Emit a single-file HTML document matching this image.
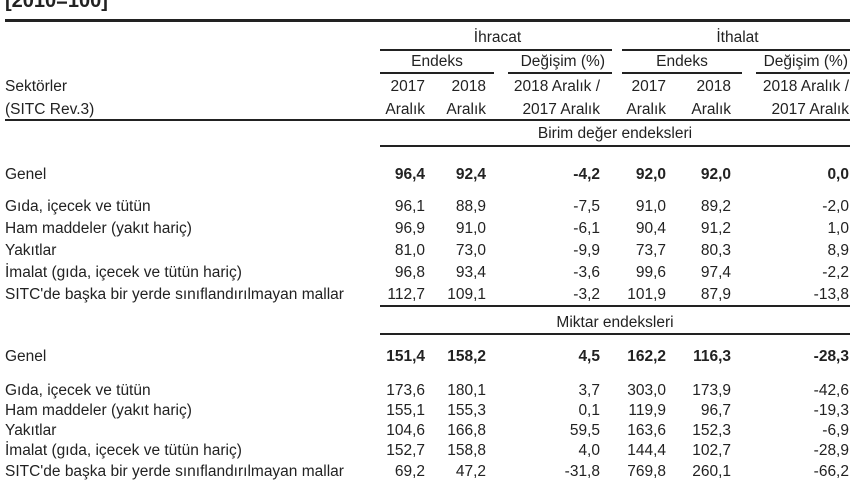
<!DOCTYPE html>
<html><head><meta charset="utf-8">
<style>
html,body{margin:0;padding:0;background:#fff;}
#c{position:relative;width:860px;height:480px;overflow:hidden;font-family:"Liberation Sans",Arial,sans-serif;font-size:15.5px;color:#222;}
.t{position:absolute;white-space:nowrap;line-height:18px;}
.r{text-align:right;}
.l{position:absolute;background:#222;}
.b{font-weight:bold;}
</style></head><body>
<div id="c">
<div class="t b" style="left:5px;top:-8px;font-size:20px;">[2010=100]</div>
<div class="l" style="left:5px;top:19px;width:845px;height:3px;"></div>
<div class="t" style="left:440px;top:29px;width:115px;text-align:center;">İhracat</div>
<div class="t" style="left:680px;top:29px;width:115px;text-align:center;">İthalat</div>
<div class="l" style="left:380px;top:49px;width:232px;height:1.5px;"></div>
<div class="l" style="left:622px;top:49px;width:228px;height:1.5px;"></div>
<div class="t" style="left:380px;top:53px;width:114px;text-align:center;">Endeks</div>
<div class="t r" style="left:495px;top:53px;width:110px;">Değişim (%)</div>
<div class="t" style="left:622px;top:53px;width:120px;text-align:center;">Endeks</div>
<div class="t r" style="left:738px;top:53px;width:110px;">Değişim (%)</div>
<div class="l" style="left:380px;top:72px;width:114px;height:1.5px;"></div>
<div class="l" style="left:508px;top:72px;width:104px;height:1.5px;"></div>
<div class="l" style="left:622px;top:72px;width:120px;height:1.5px;"></div>
<div class="l" style="left:756px;top:72px;width:94px;height:1.5px;"></div>
<div class="t" style="left:5px;top:78px;">Sektörler</div>
<div class="t" style="left:5px;top:101px;">(SITC Rev.3)</div>
<div class="l" style="left:5px;top:119px;width:845px;height:2px;"></div>
<div class="t" style="left:380px;top:125px;width:470px;text-align:center;">Birim değer endeksleri</div>
<div class="l" style="left:380px;top:145px;width:470px;height:1.5px;"></div>
<div class="l" style="left:380px;top:305px;width:470px;height:1.5px;"></div>
<div class="t" style="left:380px;top:314px;width:470px;text-align:center;">Miktar endeksleri</div>
<div class="l" style="left:380px;top:333px;width:470px;height:1.5px;"></div>
</div>
<script>
const sectors=["Genel","Gıda, içecek ve tütün","Ham maddeler (yakıt hariç)","Yakıtlar","İmalat (gıda, içecek ve tütün hariç)","SITC'de başka bir yerde sınıflandırılmayan mallar"];
const unitValues=[["96,4","92,4","-4,2","92,0","92,0","0,0"],["96,1","88,9","-7,5","91,0","89,2","-2,0"],["96,9","91,0","-6,1","90,4","91,2","1,0"],["81,0","73,0","-9,9","73,7","80,3","8,9"],["96,8","93,4","-3,6","99,6","97,4","-2,2"],["112,7","109,1","-3,2","101,9","87,9","-13,8"]];
const quantities=[["151,4","158,2","4,5","162,2","116,3","-28,3"],["173,6","180,1","3,7","303,0","173,9","-42,6"],["155,1","155,3","0,1","119,9","96,7","-19,3"],["104,6","166,8","59,5","163,6","152,3","-6,9"],["152,7","158,8","4,0","144,4","102,7","-28,9"],["69,2","47,2","-31,8","769,8","260,1","-66,2"]];
const hdr1=["2017","2018","2018 Aralık /","2017","2018","2018 Aralık /"];
const hdr2=["Aralık","Aralık","2017 Aralık","Aralık","Aralık","2017 Aralık"];
const colRight=[425,486,600,666,731,849];
const c=document.getElementById('c');
function txt(s,x,y,right,bold,name){
  const d=document.createElement('div');
  d.className='t'+(bold?' b':'');
  
  
  if(right){d.style.right=(860-x)+'px';}else{d.style.left=x+'px';}
  d.style.top=y+'px';d.textContent=s;c.appendChild(d);
}
hdr1.forEach((s,i)=>txt(s,colRight[i],78,true,false,'column-header'));
hdr2.forEach((s,i)=>txt(s,colRight[i],101,true,false,'column-header'));
const ys1=[166,198,220,242,264,286];
const ys2=[348,382,402,422,442,463];
function block(data,ys){
  sectors.forEach((s,i)=>{
    txt(s,5,ys[i],false,false,'sector-label');
    data[i].forEach((v,j)=>txt(v,colRight[j],ys[i],true,i===0,'value-cell'));
  });
}
block(unitValues,ys1);
block(quantities,ys2);
</script>
</body></html>
